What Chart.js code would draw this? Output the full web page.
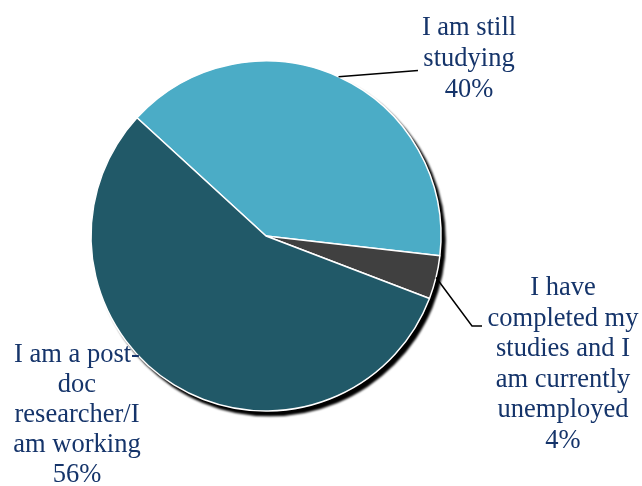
<!DOCTYPE html>
<html>
<head>
<meta charset="utf-8">
<script src="https://cdn.jsdelivr.net/npm/chart.js@4/dist/chart.umd.min.js"></script>
<style>
  html, body { margin: 0; padding: 0; background: #ffffff; }
  #wrap { width: 642px; height: 486px; position: relative; }
</style>
</head>
<body>
<div id="wrap"><canvas id="c"></canvas></div>
<script>
// Survey answers and their shares (percent)
const categories = [
  'I am still studying',
  'I have completed my studies and I am currently unemployed',
  'I am a post-doc researcher/I am working'
];
const shares = [40, 4, 56];
const sliceColors = ['#4BACC6', '#404040', '#215968'];

// Wrapped label text for each slice (the percentage line is added from shares)
const labelLines = [
  ['I am still', 'studying'],
  ['I have', 'completed my', 'studies and I', 'am currently', 'unemployed'],
  ['I am a post-', 'doc', 'researcher/I', 'am working']
];

// Where each label block sits and how its leader line bends
const labelLayout = [
  { x: 469, top: 35, lineHeight: 31, leader: [[418, 70.5]] },
  { x: 563, top: 295, lineHeight: 30.6, leader: [[472, 326], [482, 326]] },
  { x: 77, top: 362, lineHeight: 30, leader: null }
];

const LABEL_FONT = '26.5px "Liberation Serif", "Times New Roman", serif';
const LABEL_COLOR = '#15346A';

// Soft black drop shadow behind the whole pie
const pieShadow = {
  id: 'pieShadow',
  beforeDatasetsDraw(chart) {
    const arc = chart.getDatasetMeta(0).data[0];
    if (!arc) return;
    const { x, y, outerRadius } = arc.getProps(['x', 'y', 'outerRadius'], true);
    const ctx = chart.ctx;
    ctx.save();
    ctx.filter = 'blur(0.8px)';
    ctx.fillStyle = '#000000';
    ctx.beginPath();
    ctx.arc(x + 4, y + 4.5, outerRadius + 0.8, 0, Math.PI * 2);
    ctx.fill();
    ctx.restore();
  }
};

// Category labels with percentages and leader lines from each slice's rim
const sliceLabels = {
  id: 'sliceLabels',
  afterDatasetsDraw(chart) {
    const ctx = chart.ctx;
    const meta = chart.getDatasetMeta(0);
    meta.data.forEach((arc, i) => {
      const layout = labelLayout[i];
      const { x, y, startAngle, endAngle, outerRadius } =
        arc.getProps(['x', 'y', 'startAngle', 'endAngle', 'outerRadius'], true);
      if (layout.leader) {
        const mid = (startAngle + endAngle) / 2;
        ctx.save();
        ctx.strokeStyle = '#000000';
        ctx.lineWidth = 1.5;
        ctx.beginPath();
        ctx.moveTo(x + Math.cos(mid) * outerRadius, y + Math.sin(mid) * outerRadius);
        layout.leader.forEach(p => ctx.lineTo(p[0], p[1]));
        ctx.stroke();
        ctx.restore();
      }
      const lines = labelLines[i].concat([shares[i] + '%']);
      ctx.save();
      ctx.font = LABEL_FONT;
      ctx.fillStyle = LABEL_COLOR;
      ctx.textAlign = 'center';
      ctx.textBaseline = 'alphabetic';
      lines.forEach((t, k) => ctx.fillText(t, layout.x, layout.top + k * layout.lineHeight));
      ctx.restore();
    });
  }
};

new Chart(document.getElementById('c'), {
  type: 'pie',
  data: {
    labels: categories,
    datasets: [{
      data: shares,
      backgroundColor: sliceColors,
      borderColor: '#ffffff',
      borderWidth: 1.5
    }]
  },
  options: {
    responsive: true,
    maintainAspectRatio: false,
    animation: false,
    rotation: -47.5,
    radius: 175,
    layout: { padding: { left: 0, right: 110, top: 0, bottom: 14 } },
    plugins: {
      legend: { display: false },
      tooltip: { enabled: false }
    }
  },
  plugins: [pieShadow, sliceLabels]
});
</script>
</body>
</html>
